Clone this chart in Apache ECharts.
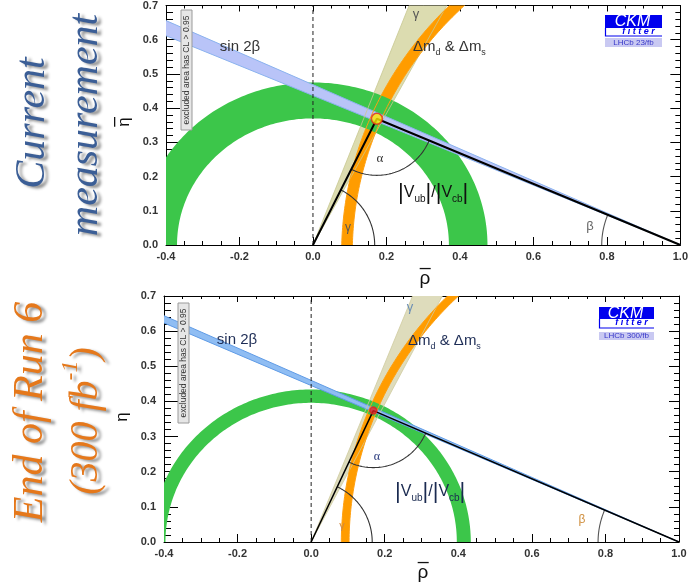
<!DOCTYPE html>
<html>
<head>
<meta charset="utf-8">
<script src="https://cdn.jsdelivr.net/npm/echarts@6/dist/echarts.min.js"></script>
<style>
  html, body { margin: 0; padding: 0; background: #fff; }
  #c { width: 691px; height: 585px; }
</style>
</head>
<body>
<div id="c"></div>
<script>
// ---------- Axis ticks ----------
const rhoTicks = [-0.4, -0.2, 0.0, 0.2, 0.4, 0.6, 0.8, 1.0];
const etaTicks = [0.0, 0.1, 0.2, 0.3, 0.4, 0.5, 0.6, 0.7];

// Fixed vertices of the unitarity triangle
const baseLeft = [0, 0];
const baseRight = [1, 0];

// ---------- Current measurement (LHCb 23/fb) ----------
const apexCur    = [0.174, 0.369];   // fitted (rho-bar, eta-bar)
const vubCur     = [0.370, 0.475];   // |Vub|/|Vcb| ring radii around (0,0)
const dmCenterCur = [1.118, -0.024]; // centre of the Δmd & Δms ring
const dmCur      = [1.011, 1.040];   // Δmd & Δms ring radii
const sin2bCur   = [23.6, 25.1];     // sin 2β wedge, β edges in degrees at (1,0)
const gammaCur   = [62.5, 69.5];     // γ wedge edges in degrees at (0,0)

// ---------- End of Run 6 (LHCb 300/fb) ----------
const apexR6     = [0.169, 0.374];
const vubR6      = [0.396, 0.434];
const dmCenterR6 = [1.087, -0.005];
const dmR6       = [0.984, 1.005];
const sin2bR6    = [24.0, 24.7];
const gammaR6    = [63.0, 68.5];

// angle-arc radii (in rho units) for α, γ, β markers
const arcR = [
  { alpha: 0.154, gamma: 0.168, beta: 0.214 },
  { alpha: 0.155, gamma: 0.166, beta: 0.220 }
];

const grids = [
  { left: 166, top: 3, width: 519, height: 242 },
  { left: 164, top: 296, width: 515, height: 246 }
];

const SANS = '"Liberation Sans", Arial, sans-serif';
const SERIF = '"Liberation Serif", "Times New Roman", serif';

function fmt(v) { return Math.abs(v) < 1e-9 ? '0.0' : v.toFixed(1); }

function xAxes(g) {
  const common = {
    gridIndex: g, type: 'value',
    min: rhoTicks[0], max: rhoTicks[rhoTicks.length - 1], interval: 0.2,
    splitLine: { show: false }, minorSplitLine: { show: false },
    axisLine: { onZero: false, lineStyle: { color: '#000', width: 1 } }
  };
  return [
    Object.assign({}, common, {
      position: 'bottom',
      axisTick: { inside: true, length: 8, lineStyle: { color: '#000' } },
      minorTick: { show: true, splitNumber: 4, length: 4, lineStyle: { color: '#000' } },
      axisLabel: { fontFamily: SANS, fontWeight: 'bold', fontSize: 11, color: '#333', margin: 6, formatter: fmt }
    }),
    Object.assign({}, common, {
      position: 'top',
      axisLabel: { show: false },
      axisTick: { inside: true, length: 6, lineStyle: { color: '#000' } },
      minorTick: { show: true, splitNumber: 4, length: 3, lineStyle: { color: '#000' } }
    })
  ];
}

function yAxes(g) {
  const common = {
    gridIndex: g, type: 'value',
    min: etaTicks[0], max: etaTicks[etaTicks.length - 1], interval: 0.1,
    splitLine: { show: false }, minorSplitLine: { show: false },
    axisLine: { onZero: false, lineStyle: { color: '#000', width: 1 } }
  };
  return [
    Object.assign({}, common, {
      position: 'left',
      axisTick: { inside: true, length: 14, lineStyle: { color: '#000' } },
      minorTick: { show: true, splitNumber: 5, length: 7, lineStyle: { color: '#000' } },
      axisLabel: { fontFamily: SANS, fontWeight: 'bold', fontSize: 11, color: '#333', margin: 8, formatter: fmt }
    }),
    Object.assign({}, common, {
      position: 'right',
      axisLabel: { show: false },
      axisTick: { inside: true, length: 10, lineStyle: { color: '#000' } },
      minorTick: { show: true, splitNumber: 5, length: 5, lineStyle: { color: '#000' } }
    })
  ];
}

// ring (annulus) around a centre, swept between two angles
function ringSeries(g, center, radii, sweep, style, z) {
  return {
    type: 'custom', xAxisIndex: 2 * g, yAxisIndex: 2 * g, clip: true, silent: true, z: z,
    data: [[center[0], center[1], radii[0], radii[1]]],
    renderItem: function (params, api) {
      const cx = api.value(0), cy = api.value(1), ri = api.value(2), ro = api.value(3);
      const pts = [];
      const N = 180;
      for (let i = 0; i <= N; i++) {
        const t = (sweep[0] + (sweep[1] - sweep[0]) * i / N) * Math.PI / 180;
        pts.push(api.coord([cx + ro * Math.cos(t), cy + ro * Math.sin(t)]));
      }
      for (let i = N; i >= 0; i--) {
        const t = (sweep[0] + (sweep[1] - sweep[0]) * i / N) * Math.PI / 180;
        pts.push(api.coord([cx + ri * Math.cos(t), cy + ri * Math.sin(t)]));
      }
      return { type: 'polygon', shape: { points: pts }, style: style };
    }
  };
}

// wedge from a vertex; angles measured from +rho (dir=+1) or from -rho (dir=-1)
function wedgeSeries(g, vertex, angles, dir, style, z) {
  return {
    type: 'custom', xAxisIndex: 2 * g, yAxisIndex: 2 * g, clip: true, silent: true, z: z,
    data: [[vertex[0], vertex[1], angles[0], angles[1]]],
    renderItem: function (params, api) {
      const vx = api.value(0), vy = api.value(1);
      const a1 = api.value(2) * Math.PI / 180, a2 = api.value(3) * Math.PI / 180;
      const L = 3;
      const pts = [
        api.coord([vx, vy]),
        api.coord([vx + dir * L * Math.cos(a1), vy + L * Math.sin(a1)]),
        api.coord([vx + dir * L * Math.cos(a2), vy + L * Math.sin(a2)])
      ];
      return { type: 'polygon', shape: { points: pts }, style: style };
    }
  };
}

// angle arc at a triangle vertex between the two adjacent sides
function arcSeries(g, vertex, p1, p2, r, color) {
  return {
    type: 'custom', xAxisIndex: 2 * g, yAxisIndex: 2 * g, silent: true, z: 6,
    data: [[vertex[0], vertex[1], p1[0], p1[1], p2[0], p2[1]]],
    renderItem: function (params, api) {
      const c = api.coord([api.value(0), api.value(1)]);
      const a = api.coord([api.value(2), api.value(3)]);
      const b = api.coord([api.value(4), api.value(5)]);
      const rp = api.size([r, 0])[0];
      const t1 = Math.atan2(a[1] - c[1], a[0] - c[0]);
      let d = Math.atan2(b[1] - c[1], b[0] - c[0]) - t1;
      while (d > Math.PI) d -= 2 * Math.PI;
      while (d < -Math.PI) d += 2 * Math.PI;
      const pts = [];
      for (let i = 0; i <= 60; i++) {
        const t = t1 + d * i / 60;
        pts.push([c[0] + rp * Math.cos(t), c[1] + rp * Math.sin(t)]);
      }
      return { type: 'polyline', shape: { points: pts }, style: { stroke: color, lineWidth: 1.1, fill: null } };
    }
  };
}

function panelSeries(g, p) {
  const s = [];
  // γ wedge (khaki)
  s.push(wedgeSeries(g, baseLeft, p.gamma, 1, { fill: p.khaki }, 1));
  // Δmd & Δms ring (orange)
  s.push(ringSeries(g, p.dmCenter, p.dm, [90, 182], { fill: '#ff9c00' }, 2));
  // |Vub|/|Vcb| ring (green)
  s.push(ringSeries(g, baseLeft, p.vub, [0, 180], { fill: '#3cc64a' }, 3));
  // sin 2β wedge (blue)
  s.push(wedgeSeries(g, baseRight, p.sin2b, -1, { fill: p.blueFill, stroke: p.blueEdge, lineWidth: 1 }, 4));
  // outlines of the γ and Δm bands over the other fills
  s.push(wedgeSeries(g, baseLeft, p.gamma, 1, { fill: null, stroke: p.khakiEdge, lineWidth: 0.8 }, 4));
  s.push(ringSeries(g, p.dmCenter, p.dm, [90, 182], { fill: null, stroke: '#ffa010', lineWidth: 1 }, 4));
  // dashed rho = 0 line
  s.push({
    type: 'line', xAxisIndex: 2 * g, yAxisIndex: 2 * g, silent: true, z: 5,
    data: [[0, etaTicks[0]], [0, etaTicks[etaTicks.length - 1]]],
    symbol: 'none', lineStyle: { color: '#222', width: 1, type: [4, 3] }
  });
  // angle arcs
  s.push(arcSeries(g, p.apex, baseLeft, baseRight, arcR[g].alpha, '#333'));
  s.push(arcSeries(g, baseLeft, baseRight, p.apex, arcR[g].gamma, '#333'));
  s.push(arcSeries(g, baseRight, baseLeft, p.apex, arcR[g].beta, '#555'));
  // triangle
  s.push({
    type: 'line', xAxisIndex: 2 * g, yAxisIndex: 2 * g, silent: true, z: 7,
    data: [baseLeft, p.apex, baseRight],
    symbol: 'none', lineStyle: { color: '#000', width: p.triWidth }
  });
  // fitted apex
  s.push({
    type: 'scatter', xAxisIndex: 2 * g, yAxisIndex: 2 * g, silent: true, z: 8,
    data: [p.apex], symbol: 'circle', symbolSize: p.apexSize,
    itemStyle: { color: p.apexFill, borderColor: '#e02a1a', borderWidth: 1.5 }
  });
  return s;
}

const panels = [
  { apex: apexCur, vub: vubCur, dm: dmCur, dmCenter: dmCenterCur, sin2b: sin2bCur, gamma: gammaCur,
    khaki: '#dcdcb0', khakiEdge: '#c8c890', blueFill: '#b9c4f8', blueEdge: '#8ab2ee',
    triWidth: 2, apexSize: 11, apexFill: '#ffe800' },
  { apex: apexR6, vub: vubR6, dm: dmR6, dmCenter: dmCenterR6, sin2b: sin2bR6, gamma: gammaR6,
    khaki: '#dedcbc', khakiEdge: '#cfcca0', blueFill: '#8fbdf3', blueEdge: '#5f9be6',
    triWidth: 1.5, apexSize: 7, apexFill: '#e02020' }
];

// ---------- decorations ----------
function rotText(x, y, rich, text, baseStyle) {
  return {
    type: 'text', x: x, y: y, rotation: Math.PI / 2, z: 20,
    style: Object.assign({
      text: text, rich: rich,
      align: 'center', verticalAlign: 'middle',
      textAlign: 'center', textVerticalAlign: 'middle'
    }, baseStyle)
  };
}

function label(x, y, text, style, align) {
  return {
    type: 'text', x: x, y: y, z: 20,
    style: Object.assign({
      text: text, align: align || 'center', verticalAlign: 'middle',
      textAlign: align || 'center', textVerticalAlign: 'middle'
    }, style)
  };
}

// axis symbol with an overbar (bar optional), optionally rotated
function barredSymbol(x, y, ch, size, rotation, withBar) {
  const children = [
    { type: 'text', x: 0, y: 0,
      style: { text: ch, font: size + 'px ' + SANS, fill: '#111',
        align: 'center', verticalAlign: 'middle', textAlign: 'center', textVerticalAlign: 'middle' } }
  ];
  if (withBar) {
    children.push({ type: 'line', shape: { x1: -size * 0.28, y1: -size * 0.55, x2: size * 0.30, y2: -size * 0.55 },
      style: { stroke: '#111', lineWidth: 1.3 } });
  }
  return { type: 'group', x: x, y: y, rotation: rotation, z: 20, children: children };
}

const shadow = { textShadowColor: 'rgba(0,0,0,0.45)', textShadowBlur: 3, textShadowOffsetX: 4, textShadowOffsetY: 2 };

function dmLabel(x, y, color) {
  return label(x, y, '{n|Δm}{s|d}{n| & Δm}{s|s}', {
    rich: {
      n: { fontFamily: SANS, fontSize: 15, lineHeight: 16, fill: color },
      s: { fontFamily: SANS, fontSize: 9, lineHeight: 9, padding: [12, 0, 0, 0], fill: color }
    }
  }, 'left');
}

function vubLabel(x, y, color) {
  return label(x, y, '{b||}{v|V}{s|ub}{b||}{v|/}{b||}{v|V}{s|cb}{b||}', {
    rich: {
      b: { fontFamily: SANS, fontSize: 22, lineHeight: 22, fill: color },
      v: { fontFamily: SANS, fontSize: 16, lineHeight: 22, fill: color },
      s: { fontFamily: SANS, fontSize: 10, lineHeight: 10, padding: [12, 0, 0, 0], fill: color }
    }
  }, 'left');
}

function logo(x, y, w, hTop, hLow, gap, hTag, tag) {
  return [
    { type: 'rect', z: 20, shape: { x: x, y: y, width: w, height: hTop }, style: { fill: '#0000ee' } },
    { type: 'polyline', z: 20, shape: { points: [[x + 0.5, y + hTop], [x + 0.5, y + hTop + hLow], [x + w, y + hTop + hLow]] },
      style: { stroke: '#0000ee', lineWidth: 1.2, fill: null } },
    label(x + w / 2 - 1, y + hTop / 2 + 0.5, 'CKM', { font: 'italic 16px ' + SANS, fill: '#ffffff' }),
    label(x + w / 2 + 5, y + hTop + hLow / 2 - 0.5, 'f i t t e r', { font: 'bold italic 9px ' + SANS, fill: '#0000ee' }),
    { type: 'rect', z: 20, shape: { x: x, y: y + hTop + hLow + gap, width: w, height: hTag }, style: { fill: '#c9c9f2' } },
    label(x + w / 2, y + hTop + hLow + gap + hTag / 2, tag, { font: '8px ' + SANS, fill: '#3535c8' })
  ];
}

function exclBox(x, y, w, h) {
  return [
    { type: 'rect', z: 20, shape: { x: x, y: y, width: w, height: h }, style: { fill: '#e6e6e6', stroke: '#9a9a9a', lineWidth: 1 } },
    {
      type: 'text', x: x + w / 2, y: y + h / 2, rotation: Math.PI / 2, z: 21,
      style: { text: 'excluded area has CL > 0.95', font: '8.5px ' + SANS, fill: '#333',
        align: 'center', verticalAlign: 'middle', textAlign: 'center', textVerticalAlign: 'middle' }
    }
  ];
}

const blueTitle = '#3b5e96';
const orangeTitle = '#e5781b';

const graphics = [].concat(
  // side titles
  rotText(33, 123, null, 'Current', Object.assign({ font: 'italic 42px ' + SERIF, fill: blueTitle }, shadow)),
  rotText(86, 125, null, 'measurement', Object.assign({ font: 'italic 42px ' + SERIF, fill: blueTitle }, shadow)),
  rotText(31, 412, null, 'End of Run 6', Object.assign({ font: 'italic 42px ' + SERIF, fill: orangeTitle }, shadow)),
  rotText(86, 421, {
    m: Object.assign({ fontFamily: SERIF, fontStyle: 'italic', fontSize: 40, lineHeight: 40, fill: orangeTitle }, shadow),
    p: Object.assign({ fontFamily: SERIF, fontStyle: 'italic', fontSize: 24, lineHeight: 24, padding: [0, 0, 30, 0], fill: orangeTitle }, shadow)
  }, '{m|(300 fb}{p|-1}{m|)}', {}),

  // axis symbols
  barredSymbol(425, 279, 'ρ', 19, 0, true),
  barredSymbol(124, 122, 'η', 17, Math.PI / 2, true),
  barredSymbol(423, 573, 'ρ', 19, 0, true),
  barredSymbol(122, 417, 'η', 17, Math.PI / 2, false),

  // upper panel annotations
  label(240, 47, 'sin 2β', { font: '15px ' + SANS, fill: '#333' }),
  dmLabel(413, 47, '#333'),
  label(416, 14, 'γ', { font: '13px ' + SANS, fill: '#555' }),
  label(380, 159, 'α', { font: '13px ' + SERIF, fill: '#333' }),
  label(348, 228, 'γ', { font: '12px ' + SANS, fill: '#555' }),
  label(590, 226, 'β', { font: '13px ' + SANS, fill: '#666' }),
  vubLabel(398, 193, '#111'),
  logo(605, 15, 57, 13, 8, 2, 9, 'LHCb 23/fb'),
  exclBox(181, 10, 11, 120),

  // lower panel annotations
  label(237, 340, 'sin 2β', { font: '15px ' + SANS, fill: '#1d2c55' }),
  dmLabel(408, 341, '#1d2c55'),
  label(410, 307, 'γ', { font: '13px ' + SANS, fill: '#6a8db5' }),
  label(377, 457, 'α', { font: '12px ' + SERIF, fill: '#23357a' }),
  label(342, 526, 'γ', { font: '11px ' + SANS, fill: '#d08840' }),
  label(582, 520, 'β', { font: '12px ' + SANS, fill: '#d09040' }),
  vubLabel(395, 492, '#1a2a50'),
  logo(599, 307, 55, 12, 9, 4, 8, 'LHCb 300/fb'),
  exclBox(178, 303, 11, 120)
);

const chart = echarts.init(document.getElementById('c'), null, { renderer: 'canvas' });
chart.setOption({
  animation: false,
  backgroundColor: '#fff',
  grid: grids.map(g => Object.assign({ containLabel: false }, g)),
  xAxis: [].concat(xAxes(0), xAxes(1)),
  yAxis: [].concat(yAxes(0), yAxes(1)),
  series: [].concat(panelSeries(0, panels[0]), panelSeries(1, panels[1])),
  graphic: { elements: graphics }
});
</script>
</body>
</html>
